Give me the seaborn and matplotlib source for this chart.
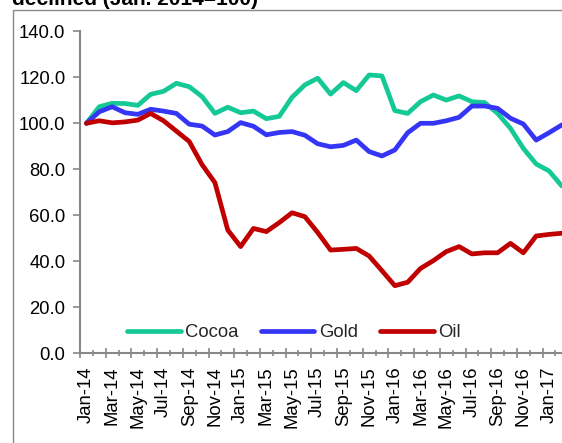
import numpy as np
import pandas as pd
import matplotlib
matplotlib.use("Agg")
import matplotlib.pyplot as plt
from matplotlib.patches import Rectangle
from matplotlib.ticker import FixedLocator, NullFormatter
import seaborn as sns

months = pd.date_range("2014-01-01", periods=38, freq="MS").strftime("%b-%y").tolist()

cocoa = [100.0, 107.2, 108.7, 108.6, 107.8, 112.6, 113.9, 117.4, 115.9, 111.6,
         104.3, 107.0, 104.6, 105.3, 102.0, 103.0, 111.3, 116.7, 119.6, 112.7,
         117.7, 114.2, 121.0, 120.6, 105.5, 104.3, 109.4, 112.3, 110.1, 111.9,
         109.4, 109.0, 104.3, 97.8, 89.1, 82.3, 79.3, 72.7]
gold = [100.0, 105.0, 107.2, 104.6, 103.9, 106.1, 105.3, 104.3, 99.6, 98.8,
        94.9, 96.4, 100.3, 98.7, 95.0, 96.0, 96.4, 94.8, 91.1, 89.8,
        90.4, 92.7, 87.7, 85.8, 88.4, 95.9, 100.0, 100.0, 101.1, 102.6,
        107.5, 107.5, 106.5, 102.2, 99.7, 92.7, 95.9, 99.3]
oil = [100.0, 101.1, 100.2, 100.6, 101.4, 104.3, 101.1, 96.6, 92.1, 82.0,
       74.2, 53.6, 46.4, 54.3, 52.9, 56.8, 61.1, 59.4, 52.5, 44.9,
       45.2, 45.6, 42.3, 35.9, 29.4, 30.9, 36.9, 40.3, 44.2, 46.4,
       43.2, 43.7, 43.7, 47.8, 43.7, 51.0, 51.7, 52.2]

series_names = ["Cocoa", "Gold", "Oil"]
colors = ["#14C995", "#3535F5", "#C00000"]
yticks = [0, 20, 40, 60, 80, 100, 120, 140]

df = pd.DataFrame({
    "idx": list(range(len(months))) * 3,
    "value": cocoa + gold + oil,
    "series": ["Cocoa"] * len(months) + ["Gold"] * len(months) + ["Oil"] * len(months),
})

sns.set_theme(style="white")
plt.rcParams["font.family"] = ["Liberation Sans", "DejaVu Sans"]

W, H = 562, 443
fig = plt.figure(figsize=(W / 100, H / 100), dpi=100)
ax = fig.add_axes([80 / W, (H - 353.3) / H, (568.3 - 80) / W, (353.3 - 31.3) / H])

sns.lineplot(data=df, x="idx", y="value", hue="series", hue_order=series_names,
             palette=colors, linewidth=3.4, ax=ax, legend=False, sort=False)

n = len(months)
ax.set_xlim(-0.5, n - 0.5)
ax.set_ylim(0, 140)
ax.set_xlabel("")
ax.set_ylabel("")

ax.set_xticks(list(range(0, n, 2)))
ax.set_xticklabels(months[::2], rotation=90)
# short ticks at odd category boundaries
ax.xaxis.set_minor_locator(FixedLocator([i - 0.5 for i in range(1, n + 1, 2)]))

ax.tick_params(axis="x", which="major", length=0, labelsize=13.3, pad=9.6, labelcolor="black")
ax.tick_params(axis="x", which="minor", length=4, width=1.2, color="#888888",
               direction="inout", bottom=True)

# long ticks at even category boundaries
ax2 = ax.twiny()
ax2.set_xlim(ax.get_xlim())
ax2.xaxis.set_ticks_position("bottom")
ax2.set_xticks([i - 0.5 for i in range(0, n + 1, 2)])
ax2.xaxis.set_major_formatter(NullFormatter())
ax2.tick_params(axis="x", which="major", length=7, width=1.2, color="#888888",
                direction="inout", bottom=True, top=False)
for s in ax2.spines.values():
    s.set_visible(False)

ax.set_ylim(0, 140)
ax.set_yticks(yticks)
ax.set_yticklabels([f"{v:.1f}" for v in yticks])
ax.tick_params(axis="y", which="major", length=5, width=1.2, color="#888888",
               direction="out", left=True, labelsize=13.3, pad=5.5, labelcolor="black")

for s in ["top", "right"]:
    ax.spines[s].set_visible(False)
for s in ["left", "bottom"]:
    ax.spines[s].set_color("#888888")
    ax.spines[s].set_linewidth(1.5)

handles = [plt.Line2D([], [], color=c, lw=3.4) for c in colors]
leg = fig.legend(handles, series_names, loc="center left", ncol=3, frameon=False,
                 bbox_to_anchor=(127 / W, (H - 332.7) / H), borderpad=0, borderaxespad=0,
                 handlelength=2.9, handletextpad=0.25, columnspacing=1.2, fontsize=13.3)

fig.add_artist(Rectangle((13 / W, -0.1), 1.2, (H - 10) / H + 0.1, transform=fig.transFigure,
                         fill=False, edgecolor="#8a8a8a", linewidth=1.0))

fig.text(258 / W, (H - 5) / H, "declined (Jan. 2014=100)", ha="right", va="baseline",
         fontsize=15, fontweight="bold", color="black")

fig.savefig("out.png", dpi=100)
